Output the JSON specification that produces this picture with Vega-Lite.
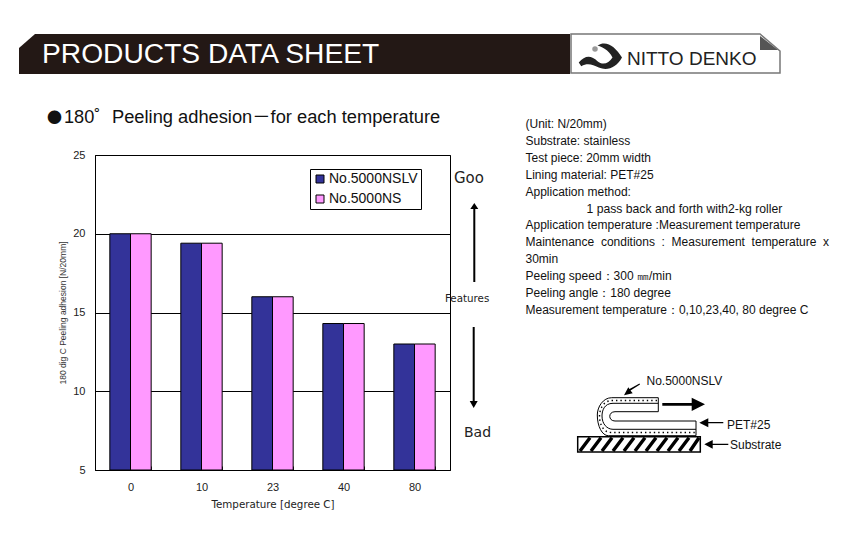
{
"$schema":"https://vega.github.io/schema/vega-lite/v6.json",
"width":355,"height":315,
"autosize":{"type":"none"},
"padding":{"left":95,"top":155,"right":393,"bottom":73},
"background":"white",
"view":{"stroke":"black","strokeWidth":1},
"config":{"font":"Liberation Sans","text":{"font":"Liberation Sans","color":"#111"}},
"resolve":{"scale":{"x":"independent","y":"independent"},"axis":{"x":"independent","y":"independent"}},
"layer":[
{"data":{"values":[
{"temperature":"0","product":"No.5000NSLV","adhesion":20},
{"temperature":"0","product":"No.5000NS","adhesion":20},
{"temperature":"10","product":"No.5000NSLV","adhesion":19.4},
{"temperature":"10","product":"No.5000NS","adhesion":19.4},
{"temperature":"23","product":"No.5000NSLV","adhesion":16},
{"temperature":"23","product":"No.5000NS","adhesion":16},
{"temperature":"40","product":"No.5000NSLV","adhesion":14.3},
{"temperature":"40","product":"No.5000NS","adhesion":14.3},
{"temperature":"80","product":"No.5000NSLV","adhesion":13},
{"temperature":"80","product":"No.5000NS","adhesion":13}]},
"mark":{"type":"bar","stroke":"black","strokeWidth":1},
"encoding":{
"x":{"field":"temperature","type":"ordinal","sort":["0","10","23","40","80"],
"scale":{"paddingInner":0.418,"paddingOuter":0.209},
"axis":{"title":"Temperature [degree C]","titleFont":"DejaVu Sans","titleFontSize":10.3,"titleFontWeight":"normal","titleColor":"#222","titlePadding":7,"labelAngle":0,"labelFontSize":11,"labelColor":"#222","labelPadding":15,"tickBand":"extent","tickSize":-4,"tickColor":"black","domainColor":"black","grid":false}},
"xOffset":{"field":"product","type":"nominal","sort":["No.5000NSLV","No.5000NS"],"scale":{"paddingInner":0,"paddingOuter":0}},
"y":{"field":"adhesion","type":"quantitative","stack":null,
"scale":{"domain":[5,25],"zero":false,"nice":false},
"axis":{"title":"180 dig C Peeling adhesion [N/20mm]","titleFontSize":8.5,"titleFontWeight":"normal","titleColor":"#333","titlePadding":5,"values":[5,10,15,20,25],"labelFontSize":11,"labelColor":"#222","labelPadding":10,"tickSize":0,"domainColor":"black","grid":true,"gridColor":"black","gridWidth":1,"gridOpacity":1}},
"y2":{"datum":5},
"color":{"field":"product","type":"nominal","sort":["No.5000NSLV","No.5000NS"],
"scale":{"domain":["No.5000NSLV","No.5000NS"],"range":["#333399","#ff99ff"]},
"legend":{"title":null,"orient":"none","legendX":215,"legendY":14,"padding":3,"strokeColor":"black","fillColor":"white","symbolType":"square","symbolSize":64,"symbolStrokeColor":"black","symbolStrokeWidth":1,"labelFontSize":14,"labelColor":"#111","labelOffset":2,"rowPadding":6,"symbolOpacity":1}}
}},
{"data":{"values":[{"note":"(Unit: N/20mm)","line":1},{"note":"Substrate: stainless","line":2},{"note":"Test piece: 20mm width","line":3},{"note":"Lining material: PET#25","line":4},{"note":"Application method:","line":5},{"note":"Application temperature :Measurement temperature","line":7},{"note":"Maintenance\u00a0\u00a0conditions\u00a0\u00a0:\u00a0\u00a0Measurement\u00a0\u00a0temperature\u00a0\u00a0x","line":8},{"note":"30min","line":9},{"note":"Peeling speed\uff1a300 \u339c/min","line":10},{"note":"Peeling angle\uff1a180 degree","line":11},{"note":"Measurement temperature\uff1a0,10,23,40, 80 degree C","line":12}]},
"mark":{"type":"text","align":"left","baseline":"middle","fontSize":12,"x":430.5},
"encoding":{"y":{"field":"line","type":"quantitative","scale":{"domain":[1,12],"range":[-31,155]},"axis":null},"text":{"field":"note"}}},
{"data":{"values":[{"note":"1 pass back and forth with2-kg roller","line":6}]},
"mark":{"type":"text","align":"left","baseline":"middle","fontSize":12.2,"x":491.5},
"encoding":{"y":{"field":"line","type":"quantitative","scale":{"domain":[1,12],"range":[-31,155]},"axis":null},"text":{"field":"note"}}},
{"data":{"values":[{}]},"mark":{"type":"point","x":-20,"y":-100,"size":1000000,"filled":true,"fill":"#231815","opacity":1,
"shape":"M-0.112,-0.014 L-0.08,-0.042 L0.99,-0.042 L0.99,0.038 L-0.112,0.038 Z"},"encoding":{}},
{"data":{"values":[{}]},"mark":{"type":"point","x":580,"y":-100,"size":40000,"filled":true,"fill":"white","stroke":"#777","strokeWidth":1.5,"opacity":1,
"shape":"M-1.04,-0.21 L0.85,-0.21 L1.05,-0.04 L1.05,0.18 L-1.04,0.18 Z"},"encoding":{}},
{"data":{"values":[{}]},"mark":{"type":"point","x":580,"y":-100,"size":40000,"filled":true,"fill":"#555","opacity":1,
"shape":"M0.85,-0.19 L0.85,-0.05 L1.03,-0.05 Z"},"encoding":{}},
{"data":{"values":[{}]},"mark":{"type":"point","x":505,"y":-100,"size":2500,"filled":true,"fill":"#222","opacity":1,
"shape":"M-0.85,0.3 C-0.6,0 -0.35,0 -0.1,0.25 C0.1,0.42 0.35,0.35 0.5,0.1 C0.35,-0.2 0.05,-0.35 -0.1,-0.38 C0.25,-0.6 0.6,-0.35 0.88,0.1 C0.65,0.5 0.3,0.65 -0.05,0.5 C-0.3,0.38 -0.5,0.3 -0.75,0.45 Z"},"encoding":{}},
{"data":{"values":[{}]},"mark":{"type":"point","x":500,"y":-106,"size":30,"filled":true,"fill":"#999","opacity":1,"shape":"circle"},"encoding":{}},
{"data":{"values":[{"label":"PRODUCTS DATA SHEET"}]},"mark":{"type":"text","align":"left","baseline":"middle","fontSize":28.2,"x":-53,"y":-100,"color":"white"},"encoding":{"text":{"field":"label"}}},
{"data":{"values":[{"label":"NITTO DENKO"}]},"mark":{"type":"text","align":"left","baseline":"middle","fontSize":19,"x":532,"y":-96,"color":"#222"},"encoding":{"text":{"field":"label"}}},
{"data":{"values":[{"label":"\u25cf"}]},"mark":{"type":"text","align":"left","baseline":"middle","fontSize":15,"font":"Noto Sans CJK JP","x":-48,"y":-37,"color":"#111"},"encoding":{"text":{"field":"label"}}},
{"data":{"values":[{"label":"180\u02da"}]},"mark":{"type":"text","align":"left","baseline":"middle","fontSize":18.2,"x":-31,"y":-37,"color":"#111"},"encoding":{"text":{"field":"label"}}},
{"data":{"values":[{"label":"Peeling adhesion\uff0dfor each temperature"}]},"mark":{"type":"text","align":"left","baseline":"middle","fontSize":18.3,"font":"Liberation Sans, Noto Sans CJK JP","x":17,"y":-37,"color":"#111"},"encoding":{"text":{"field":"label"}}},
{"data":{"values":[{"label":"Goo"}]},"mark":{"type":"text","align":"left","baseline":"middle","fontSize":15,"x":359,"y":23,"font":"DejaVu Sans","color":"#222"},"encoding":{"text":{"field":"label"}}},
{"data":{"values":[{"label":"Bad"}]},"mark":{"type":"text","align":"left","baseline":"middle","fontSize":14,"x":369,"y":278,"font":"DejaVu Sans","color":"#222"},"encoding":{"text":{"field":"label"}}},
{"data":{"values":[{"label":"Features"}]},"mark":{"type":"text","align":"left","baseline":"middle","fontSize":10.3,"x":350,"y":144,"font":"DejaVu Sans","color":"#222"},"encoding":{"text":{"field":"label"}}},
{"data":{"values":[{}]},"mark":{"type":"point","x":380,"y":145,"size":40000,"filled":true,"fill":"black","opacity":1,
"shape":"M-0.007,-0.97 L0.033,-0.91 L0.003,-0.91 L0.003,-0.18 L-0.017,-0.18 L-0.017,-0.91 L-0.047,-0.91 Z M-0.013,1.08 L0.027,1.01 L-0.003,1.01 L-0.003,0.27 L-0.023,0.27 L-0.023,1.01 L-0.053,1.01 Z"},"encoding":{}},
{"data":{"values":[{}]},"mark":{"type":"point","x":545,"y":265,"size":40000,"filled":true,"fill":"white","stroke":"black","strokeWidth":1,"opacity":1,
"shape":"M0.183,-0.223 L-0.283,-0.223 C-0.37,-0.223 -0.427,-0.13 -0.427,-0.05 C-0.427,0.06 -0.38,0.157 -0.317,0.157 L0.56,0.157 L0.56,0.01 L-0.25,0.01 C-0.32,0.01 -0.32,-0.083 -0.25,-0.083 L0.183,-0.083 Z"},"encoding":{}},
{"data":{"values":[{}]},"mark":{"type":"point","x":545,"y":265,"size":40000,"filled":false,"stroke":"black","strokeWidth":1,"opacity":1,
"shape":"M0.183,-0.167 L-0.27,-0.167 C-0.36,-0.167 -0.38,-0.09 -0.38,-0.04 C-0.38,0.04 -0.33,0.093 -0.27,0.093 L0.56,0.093"},"encoding":{}},
{"data":{"values":[{}]},"mark":{"type":"point","x":545,"y":265,"size":40000,"filled":false,"stroke":"black","strokeWidth":1.4,"strokeDash":[1.4,3],"opacity":1,
"shape":"M0.17,-0.195 L-0.28,-0.195 C-0.37,-0.195 -0.405,-0.1 -0.405,-0.04 C-0.405,0.05 -0.36,0.125 -0.29,0.125 L0.55,0.125"},"encoding":{}},
{"data":{"values":[{}]},"mark":{"type":"point","x":545,"y":265,"size":40000,"filled":false,"stroke":"black","strokeWidth":3.4,"opacity":1,
"shape":"M-0.6,0.31 L-0.5,0.177 M-0.49,0.31 L-0.39,0.177 M-0.38,0.31 L-0.28,0.177 M-0.27,0.31 L-0.17,0.177 M-0.16,0.31 L-0.06,0.177 M-0.05,0.31 L0.05,0.177 M0.06,0.31 L0.16,0.177 M0.17,0.31 L0.27,0.177 M0.28,0.31 L0.38,0.177 M0.39,0.31 L0.49,0.177 M0.5,0.31 L0.59,0.177"},"encoding":{}},
{"data":{"values":[{}]},"mark":{"type":"point","x":545,"y":265,"size":40000,"filled":false,"stroke":"black","strokeWidth":1.5,"opacity":1,
"shape":"M-0.623,0.167 L0.603,0.167 L0.603,0.32 L-0.623,0.32 Z"},"encoding":{}},
{"data":{"values":[{}]},"mark":{"type":"point","x":545,"y":265,"size":40000,"filled":true,"fill":"black","opacity":1,
"shape":"M0.223,-0.17 L0.517,-0.17 L0.517,-0.223 L0.65,-0.157 L0.517,-0.09 L0.517,-0.143 L0.223,-0.143 Z M0.593,0.027 L0.683,-0.018 L0.683,0.021 L0.833,0.021 L0.833,0.033 L0.683,0.033 L0.683,0.073 Z M0.643,0.243 L0.727,0.2 L0.727,0.237 L0.883,0.237 L0.883,0.249 L0.727,0.249 L0.727,0.287 Z M-0.16,-0.247 L-0.117,-0.327 L-0.105,-0.31 L-0.005,-0.365 L0,-0.355 L-0.095,-0.295 L-0.073,-0.267 Z"},"encoding":{}},
{"data":{"values":[{"label":"No.5000NSLV"}]},"mark":{"type":"text","align":"left","baseline":"middle","fontSize":12,"x":551.5,"y":226,"color":"#111"},"encoding":{"text":{"field":"label"}}},
{"data":{"values":[{"label":"PET#25"}]},"mark":{"type":"text","align":"left","baseline":"middle","fontSize":12,"x":632,"y":270,"color":"#111"},"encoding":{"text":{"field":"label"}}},
{"data":{"values":[{"label":"Substrate"}]},"mark":{"type":"text","align":"left","baseline":"middle","fontSize":12,"x":635,"y":290,"color":"#111"},"encoding":{"text":{"field":"label"}}}
]
}
